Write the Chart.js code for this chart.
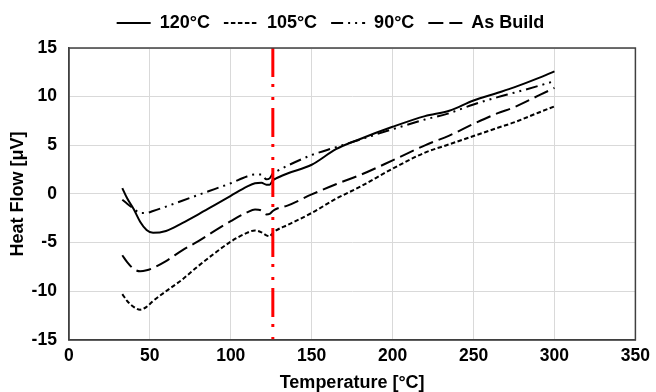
<!DOCTYPE html>
<html>
<head>
<meta charset="utf-8">
<script src="https://cdn.jsdelivr.net/npm/chart.js@4"></script>
<style>
  html, body { margin: 0; padding: 0; background: #fff; }
  #wrap { width: 656px; height: 392px; }
</style>
</head>
<body>
<div id="wrap"><canvas id="heatFlow"></canvas></div>
<script>
// temperatures (°C) the curves were read at
var temps = [33, 36, 40, 44, 48, 52, 60, 70, 80, 90, 100, 110, 115, 119, 122, 124, 126, 128, 135, 150, 165, 180, 200, 220, 235, 250, 265, 275, 290, 300];

// heat flow (µV) per sample
var hf120 = [0.6, -0.45, -1.55, -2.85, -3.7, -4.0, -3.8, -3.0, -2.1, -1.15, -0.2, 0.75, 1.1, 1.15, 0.95, 0.95, 1.4, 1.6, 2.1, 3.0, 4.6, 5.65, 6.9, 8.0, 8.55, 9.6, 10.4, 10.95, 11.9, 12.6];
var hf105 = [-10.3, -11.0, -11.6, -11.9, -11.6, -11.0, -10.0, -8.8, -7.4, -6.1, -4.9, -4.0, -3.75, -3.95, -4.25, -4.35, -4.0, -3.75, -3.2, -1.95, -0.5, 0.75, 2.6, 4.25, 5.1, 5.95, 6.8, 7.35, 8.35, 9.0];
var hf90 = [-0.6, -1.0, -1.5, -1.95, -1.95, -1.75, -1.3, -0.7, -0.1, 0.5, 1.1, 1.8, 2.0, 2.0, 1.5, 1.6, 2.1, 2.3, 2.9, 4.0, 4.8, 5.6, 6.65, 7.65, 8.3, 9.2, 9.95, 10.4, 11.1, 11.6];
var hfBuild = [-6.3, -7.0, -7.7, -7.95, -7.85, -7.6, -6.9, -5.8, -4.85, -3.8, -2.8, -1.9, -1.6, -1.7, -2.1, -2.05, -1.75, -1.55, -1.2, -0.05, 1.0, 1.95, 3.45, 5.0, 6.0, 7.2, 8.3, 8.9, 10.1, 10.9];

var seriesNames = ['120°C', '105°C', '90°C', 'As Build'];

// marker line
var markerTemp = 126;
var markerRange = [15, -15];

function pts(ys) {
    return temps.map(function (t, i) { return { x: t, y: ys[i] }; });
}

var fontFam = '"Liberation Sans", Arial, sans-serif';

// frame around the plot area
var plotFrame = {
    id: 'plotFrame',
    afterDraw: function (chart) {
        var a = chart.chartArea, ctx = chart.ctx;
        ctx.save();
        ctx.strokeStyle = '#404040';
        ctx.lineWidth = 1.5;
        ctx.setLineDash([]);
        ctx.strokeRect(a.left, a.top, a.right - a.left, a.bottom - a.top);
        ctx.restore();
    }
};

// a bit more room under the legend
var legendGap = {
    id: 'legendGap',
    beforeInit: function (chart) {
        var fit = chart.legend.fit;
        chart.legend.fit = function () {
            fit.bind(chart.legend)();
            this.height += 6;
        };
    }
};

var ctx = document.getElementById('heatFlow').getContext('2d');
var chart = new Chart(ctx, {
    type: 'line',
    data: {
        datasets: [
            {
                label: seriesNames[0],
                data: pts(hf120),
                borderColor: '#000',
                borderWidth: 2,
                borderDash: []
            },
            {
                label: seriesNames[1],
                data: pts(hf105),
                borderColor: '#000',
                borderWidth: 2,
                borderDash: [4.5, 2.5]
            },
            {
                label: seriesNames[2],
                data: pts(hf90),
                borderColor: '#000',
                borderWidth: 2,
                borderDash: [12, 5, 2, 5, 2, 5]
            },
            {
                label: seriesNames[3],
                data: pts(hfBuild),
                borderColor: '#000',
                borderWidth: 2,
                borderDash: [15, 6]
            },
            {
                label: 'marker',
                data: markerRange.map(function (v) { return { x: markerTemp, y: v }; }),
                borderColor: '#ff0000',
                borderWidth: 3,
                borderDash: [29, 7, 3, 10, 3, 8],
                cubicInterpolationMode: 'default',
                tension: 0,
                order: -1
            }
        ]
    },
    options: {
        responsive: true,
        maintainAspectRatio: false,
        animation: false,
        layout: { padding: { left: 3, right: -2, top: 0, bottom: 0 } },
        elements: {
            point: { radius: 0, hoverRadius: 0 },
            line: { cubicInterpolationMode: 'monotone', fill: false, borderCapStyle: 'butt' }
        },
        plugins: {
            tooltip: { enabled: false },
            legend: {
                position: 'top',
                labels: {
                    usePointStyle: true,
                    pointStyle: 'line',
                    pointStyleWidth: 34,
                    padding: 14,
                    color: '#000',
                    font: { family: fontFam, size: 18, weight: 'bold' },
                    generateLabels: function (chart) {
                        var items = Chart.defaults.plugins.legend.labels.generateLabels(chart);
                        items.forEach(function (it) {
                            var ds = chart.data.datasets[it.datasetIndex];
                            it.lineDash = ds.borderDash;
                            it.lineWidth = ds.borderWidth;
                            it.strokeStyle = ds.borderColor;
                        });
                        return items;
                    },
                    filter: function (item) { return item.text !== 'marker'; }
                }
            }
        },
        scales: {
            x: {
                type: 'linear',
                min: 0,
                max: 350,
                ticks: {
                    stepSize: 50,
                    padding: 6,
                    color: '#000',
                    font: { family: fontFam, size: 17.5, weight: 'bold' }
                },
                grid: { color: '#d9d9d9', lineWidth: 1, drawTicks: false },
                border: { color: '#404040', width: 1.5 },
                title: {
                    display: true,
                    text: 'Temperature [°C]',
                    color: '#000',
                    padding: { top: -0.5, bottom: -2 },
                    font: { family: fontFam, size: 18, weight: 'bold' }
                }
            },
            y: {
                min: -15,
                max: 15,
                ticks: {
                    stepSize: 5,
                    padding: 12,
                    color: '#000',
                    font: { family: fontFam, size: 17.5, weight: 'bold' }
                },
                grid: { color: '#d9d9d9', lineWidth: 1, drawTicks: false },
                border: { color: '#404040', width: 1.5 },
                title: {
                    display: true,
                    text: 'Heat Flow [μV]',
                    color: '#000',
                    padding: { top: 4, bottom: -9 },
                    font: { family: fontFam, size: 18, weight: 'bold' }
                }
            }
        }
    },
    plugins: [plotFrame, legendGap]
});
</script>
</body>
</html>
